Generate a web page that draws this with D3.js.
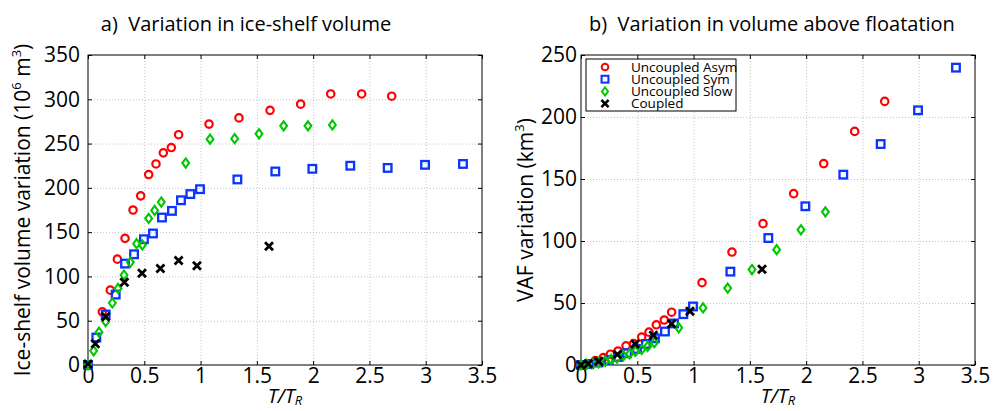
<!DOCTYPE html>
<html>
<head>
<meta charset="utf-8">
<script src="https://cdn.jsdelivr.net/npm/d3@7"></script>
<style>
  body { margin: 0; background: #fff; }
  svg text { font-family: "Open Sans", sans-serif; fill: #000; }
  .grid line { stroke: #c4c4c4; stroke-dasharray: 1,2; }
  .grid path { display: none; }
  .axis path { display: none; }
  .axis line { stroke: #000; }
</style>
</head>
<body>
<svg id="fig" width="993" height="411"></svg>
<script>
// series labels (legend order = draw order)
var seriesNames = ["Uncoupled Asym", "Uncoupled Sym", "Uncoupled Slow", "Coupled"];

// T/T_R for each run
var trAsym = [0, 0.127, 0.198, 0.261, 0.329, 0.400, 0.468, 0.539, 0.604, 0.669, 0.740, 0.805, 1.075, 1.341, 1.617, 1.889, 2.156, 2.431, 2.698];
var trSym = [0, 0.074, 0.157, 0.246, 0.329, 0.409, 0.497, 0.577, 0.657, 0.746, 0.826, 0.909, 0.995, 1.327, 1.664, 1.993, 2.330, 2.662, 2.994, 3.331];
var trSlow = [0, 0.050, 0.098, 0.157, 0.216, 0.267, 0.320, 0.376, 0.432, 0.483, 0.539, 0.592, 0.651, 0.868, 1.084, 1.303, 1.519, 1.738, 1.954, 2.171];
var trCoupled = [0, 0.065, 0.157, 0.323, 0.480, 0.643, 0.805, 0.968, 1.608];

// a) ice-shelf volume variation (10^6 m^3)
var volAsym = [0, 60, 84.5, 119.5, 143, 175, 191, 215, 227, 239.5, 245.5, 260, 272, 279, 287.5, 294.5, 306, 306, 303.5];
var volSym = [0, 31, 57, 79.5, 114.5, 125, 142, 148.5, 166.5, 174, 186, 193, 198.5, 209.5, 218.5, 221.5, 225, 222.5, 226, 227];
var volSlow = [0, 16, 37, 49, 70, 86.5, 101.5, 116, 137, 135.5, 165.5, 174.5, 184, 228, 255, 255.5, 261, 270, 270, 271];
var volCoupled = [1, 24, 54.5, 93.5, 103.5, 109, 118, 112, 134];

// b) VAF variation (km^3)
var vafAsym = [0, 3.5, 6, 8.7, 11.3, 15.5, 17.2, 22.5, 26.5, 32.4, 36.3, 42.6, 66.4, 91.1, 114, 138.2, 162.4, 188.4, 212.6];
var vafSym = [0, 0.8, 2, 4, 6.5, 9.5, 13, 17, 21.5, 27, 33.5, 41, 47.2, 75.3, 102.4, 128, 153.5, 178.2, 205.4, 239.8];
var vafSlow = [0, 0.5, 1, 1.8, 3, 4.5, 5.5, 7.5, 9, 11, 12.5, 15, 18, 30, 46, 62, 77, 93, 109, 123.5];
var vafCoupled = [0, 1, 3, 8.5, 17, 24, 33.2, 43.3, 77.2];

var xTicks = [0, 0.5, 1, 1.5, 2, 2.5, 3, 3.5];
var volTicks = [0, 50, 100, 150, 200, 250, 300, 350];
var vafTicks = [0, 50, 100, 150, 200, 250];

var colors = ["#ff0000", "#0a34ff", "#00c800", "#000000"];
var shapes = ["circle", "square", "diamond", "cross"];

var svg = d3.select("#fig");

function zipSeries(xs, ys) {
  return xs.map(function(x, i) { return [x, ys[i]]; });
}

function drawMarker(g, shape, color) {
  if (shape == "circle") {
    g.append("circle").attr("r", 3.7)
      .attr("fill", "none").attr("stroke", color).attr("stroke-width", 2.2);
  } else if (shape == "square") {
    g.append("rect").attr("x", -3.8).attr("y", -3.8).attr("width", 7.6).attr("height", 7.6)
      .attr("fill", "none").attr("stroke", color).attr("stroke-width", 2.3);
  } else if (shape == "diamond") {
    g.append("path").attr("d", "M0,-4.6L3.4,0L0,4.6L-3.4,0Z")
      .attr("fill", "none").attr("stroke", color).attr("stroke-width", 2.1);
  } else {
    g.append("path").attr("d", "M-4,-4L4,4M-4,4L4,-4")
      .attr("fill", "none").attr("stroke", color).attr("stroke-width", 2.8);
  }
}

function panel(opt) {
  var x = d3.scaleLinear().domain([0, 3.5]).range([opt.left, opt.right]);
  var y = d3.scaleLinear().domain([0, opt.ymax]).range([opt.bottom, opt.top]);
  var w = opt.right - opt.left, h = opt.bottom - opt.top;

  // dotted grid
  svg.append("g").attr("class", "grid")
    .attr("transform", "translate(0," + opt.bottom + ")")
    .call(d3.axisBottom(x).tickValues(xTicks.slice(1, -1)).tickSize(-h).tickFormat(""));
  svg.append("g").attr("class", "grid")
    .attr("transform", "translate(" + opt.left + ",0)")
    .call(d3.axisLeft(y).tickValues(opt.yTicks.slice(1, -1)).tickSize(-w).tickFormat(""));

  // axes with inward ticks
  var fmt = function(d) { return d; };
  svg.append("g").attr("class", "axis")
    .attr("transform", "translate(0," + opt.bottom + ")")
    .call(d3.axisBottom(x).tickValues(xTicks).tickSizeInner(-4).tickSizeOuter(0).tickPadding(3).tickFormat(fmt));
  svg.append("g").attr("class", "axis")
    .attr("transform", "translate(0," + opt.top + ")")
    .call(d3.axisTop(x).tickValues(xTicks).tickSizeInner(-4).tickSizeOuter(0).tickFormat(""));
  svg.append("g").attr("class", "axis")
    .attr("transform", "translate(" + opt.left + ",0)")
    .call(d3.axisLeft(y).tickValues(opt.yTicks).tickSizeInner(-4).tickSizeOuter(0).tickPadding(opt.yPad).tickFormat(fmt));
  svg.append("g").attr("class", "axis")
    .attr("transform", "translate(" + opt.right + ",0)")
    .call(d3.axisRight(y).tickValues(opt.yTicks).tickSizeInner(-4).tickSizeOuter(0).tickFormat(""));
  svg.selectAll(".axis text").attr("font-size", 21).attr("font-family", null);

  svg.append("rect")
    .attr("x", opt.left).attr("y", opt.top).attr("width", w).attr("height", h)
    .attr("fill", "none").attr("stroke", "#000").attr("stroke-width", 1);

  // markers
  opt.series.forEach(function(s, i) {
    svg.append("g").selectAll("g")
      .data(s)
      .enter()
      .append("g")
      .attr("transform", function(d) { return "translate(" + x(d[0]) + "," + y(d[1]) + ")"; })
      .each(function() { drawMarker(d3.select(this), shapes[i], colors[i]); });
  });

  // title
  svg.append("text")
    .attr("x", opt.titleX).attr("y", 31)
    .attr("text-anchor", "middle")
    .attr("font-size", 20)
    .style("white-space", "pre")
    .text(opt.title);

  // x label T/T_R
  var xl = svg.append("text")
    .attr("x", (opt.left + opt.right) / 2).attr("y", 403)
    .attr("text-anchor", "middle")
    .attr("font-size", 20)
    .attr("font-style", "italic");
  xl.append("tspan").text("T/T");
  xl.append("tspan").attr("font-size", 13).attr("dy", 2).text("R");

  // y label
  var ylab = svg.append("text")
    .attr("transform", "translate(" + opt.yLabelX + "," + ((opt.top + opt.bottom) / 2) + ") rotate(-90)")
    .attr("text-anchor", "middle")
    .attr("font-size", 21);
  opt.yLabel.forEach(function(p) {
    var t = ylab.append("tspan").text(p[0]);
    if (p[1] == "sup") t.attr("font-size", 13).attr("dy", -9);
    if (p[1] == "back") t.attr("dy", 9);
  });
}

panel({
  left: 88, right: 482, top: 55, bottom: 365, ymax: 350, yTicks: volTicks, yPad: 8,
  title: "a)  Variation in ice-shelf volume", titleX: 246,
  yLabelX: 30,
  yLabel: [["Ice-shelf volume variation (10"], ["6", "sup"], [" m", "back"], ["3", "sup"], [")", "back"]],
  series: [zipSeries(trAsym, volAsym), zipSeries(trSym, volSym), zipSeries(trSlow, volSlow), zipSeries(trCoupled, volCoupled)]
});

panel({
  left: 581, right: 975, top: 55, bottom: 365, ymax: 250, yTicks: vafTicks, yPad: 4,
  title: "b)  Variation in volume above floatation", titleX: 772,
  yLabelX: 533,
  yLabel: [["VAF variation (km"], ["3", "sup"], [")", "back"]],
  series: [zipSeries(trAsym, vafAsym), zipSeries(trSym, vafSym), zipSeries(trSlow, vafSlow), zipSeries(trCoupled, vafCoupled)]
});

// legend (in panel b)
var legend = svg.append("g").attr("transform", "translate(586,59)");
legend.append("rect").attr("width", 150).attr("height", 52)
  .attr("fill", "#fff").attr("stroke", "#000").attr("stroke-width", 1);
seriesNames.forEach(function(name, i) {
  var row = legend.append("g").attr("transform", "translate(0," + (8 + i * 12.2) + ")");
  drawMarker(row.append("g").attr("transform", "translate(19,0) scale(0.9)"), shapes[i], colors[i]);
  row.append("text").attr("x", 45).attr("dy", "0.35em").attr("font-size", 13.5).text(name);
});
</script>
</body>
</html>
